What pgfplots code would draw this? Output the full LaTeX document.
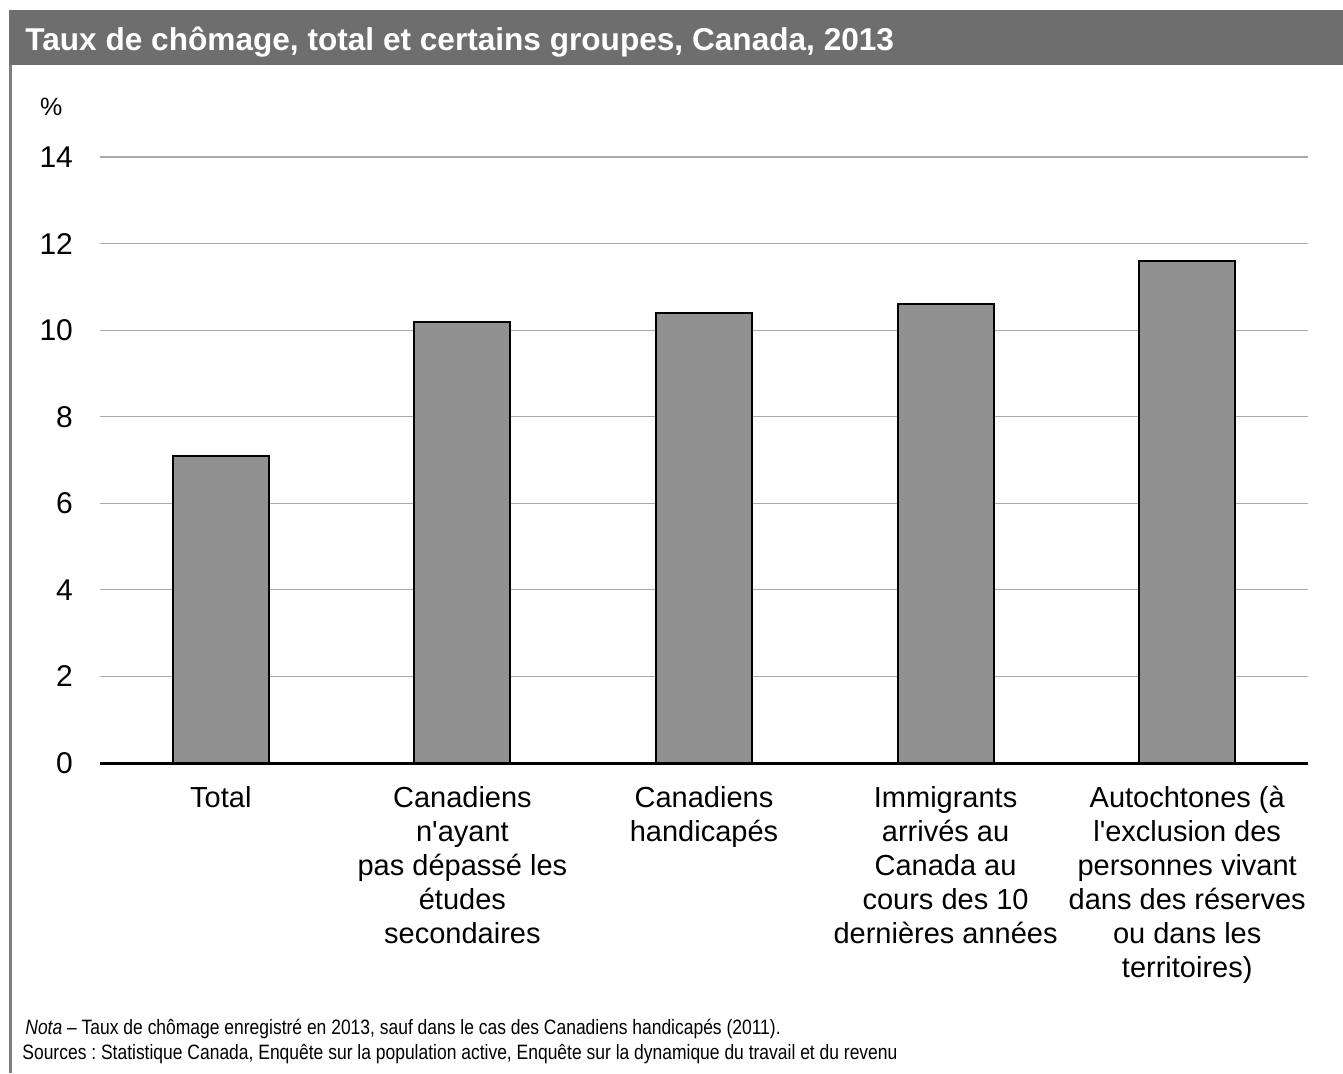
\documentclass[border=0pt]{standalone}
\usepackage{fontspec}
\setmainfont{Liberation Sans}[Ligatures=TeXOff]
\newfontfamily\narrow[FakeStretch=0.84]{Liberation Sans}
\usepackage{pgfplots}
\pgfplotsset{compat=1.18}
\definecolor{titlebar}{RGB}{110,110,110}
\definecolor{barfill}{RGB}{145,145,145}
\definecolor{gridc}{RGB}{170,170,170}
\definecolor{borderc}{RGB}{125,125,125}
\frenchspacing
\begin{document}
\begin{tikzpicture}[x=0.5pt,y=-0.5pt]
\fill[white] (0,0) rectangle (1343,1073);
\fill[titlebar] (9,10) rectangle (1343,65);
\fill[borderc] (9,65) rectangle (12,1073);
\node[anchor=base west,text=white,font=\bfseries\fontsize{15.8}{18}\selectfont,inner sep=0pt] at (25,50) {Taux de chômage, total et certains groupes, Canada, 2013};
\node[anchor=base west,font=\fontsize{12.5}{14}\selectfont] at (33,115) {\%};
\coordinate (O) at (100,763);
\begin{axis}[
  at={(O)}, anchor=south west,
  scale only axis, width=604pt, height=303pt,
  xmin=-0.5, xmax=4.5, ymin=0, ymax=14,
  ytick={0,2,...,14},
  xtick={0,1,2,3,4},
  xticklabels={{Total},{Canadiens\\n'ayant\\pas dépassé les\\études\\secondaires},{Canadiens\\handicapés},{Immigrants\\arrivés au\\Canada au\\cours des 10\\dernières années},{Autochtones (à\\l'exclusion des\\personnes vivant\\dans des réserves\\ou dans les\\territoires)}},
  xticklabel style={align=center, font=\fontsize{14.5}{17}\selectfont, anchor=north, yshift=-8pt},
  yticklabel style={font=\fontsize{15}{17}\selectfont, anchor=east, xshift=-10pt},
  /pgf/number format/assume math mode=true,
  axis lines*=left,
  x axis line style={line width=1.5pt, -},
  y axis line style={draw=none},
  ymajorgrids, grid style={gridc, line width=0.6pt},
  major tick length=0pt,
  ybar, bar width=48pt,
  clip=false,
]
\addplot[fill=barfill, draw=black, line width=1pt] coordinates {(0,7.1) (1,10.2) (2,10.4) (3,10.6) (4,11.6)};
\end{axis}
\node[anchor=base west,font=\narrow\fontsize{10.4}{12}\selectfont,inner sep=0pt] at (25,1034) {\textit{Nota} – Taux de chômage enregistré en 2013, sauf dans le cas des Canadiens handicapés (2011).};
\node[anchor=base west,font=\narrow\fontsize{10.4}{12}\selectfont,inner sep=0pt] at (22,1059) {Sources : Statistique Canada, Enquête sur la population active, Enquête sur la dynamique du travail et du revenu};
\end{tikzpicture}
\end{document}
